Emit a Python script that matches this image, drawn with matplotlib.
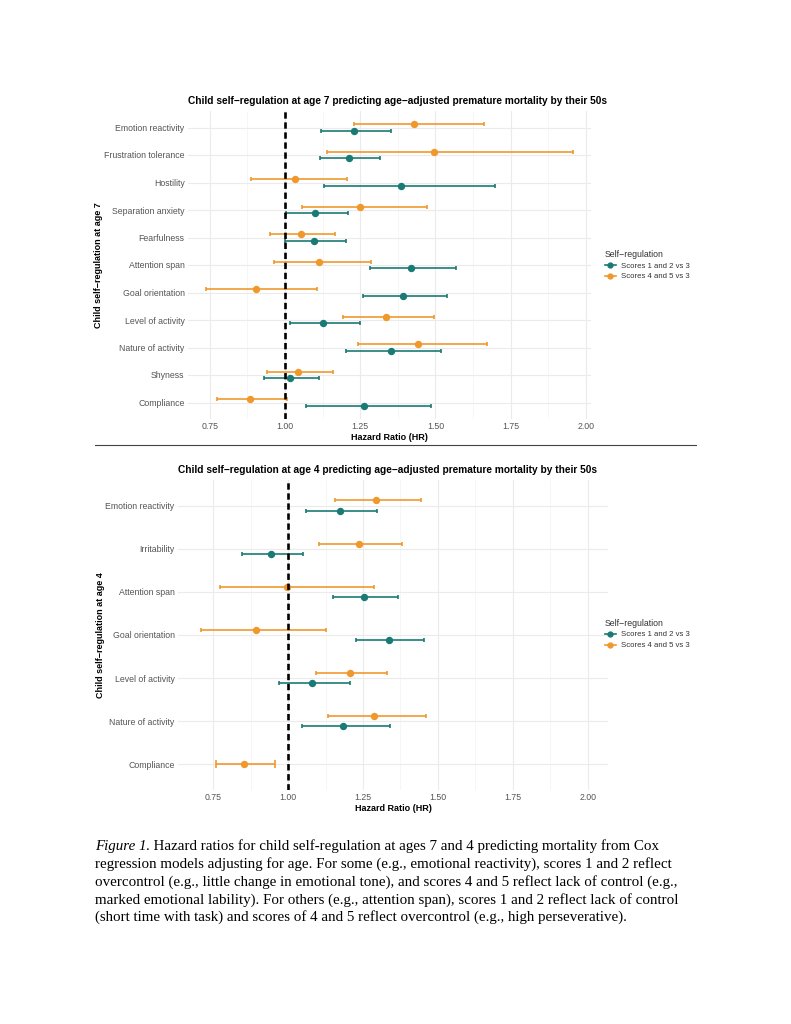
import matplotlib
matplotlib.use('Agg')
import matplotlib.pyplot as plt
from matplotlib.lines import Line2D
import numpy as np

plt.rcParams['font.family'] = ['Liberation Sans', 'DejaVu Sans']

nan = np.nan

# age 7 panel
cats_age7 = ['Emotion reactivity', 'Frustration tolerance', 'Hostility', 'Separation anxiety',
             'Fearfulness', 'Attention span', 'Goal orientation', 'Level of activity',
             'Nature of activity', 'Shyness', 'Compliance']
age7_s12_hr = [1.230, 1.212, 1.385, 1.099, 1.095, 1.419, 1.391, 1.128, 1.352, 1.016, 1.262]
age7_s12_lo = [1.121, 1.117, 1.131, 1.002, 1.000, 1.283, 1.261, 1.016, 1.203, 0.929, 1.070]
age7_s12_hi = [1.351, 1.317, 1.697, 1.211, 1.202, 1.567, 1.539, 1.250, 1.518, 1.112, 1.487]
age7_s45_hr = [1.429, 1.495, 1.034, 1.248, 1.053, 1.113, 0.905, 1.335, 1.441, 1.043, 0.884]
age7_s45_lo = [1.231, 1.140, 0.888, 1.058, 0.949, 0.964, 0.739, 1.193, 1.242, 0.940, 0.775]
age7_s45_hi = [1.660, 1.956, 1.206, 1.472, 1.168, 1.286, 1.107, 1.496, 1.672, 1.161, 1.008]

# age 4 panel (no "scores 1 and 2" estimate for compliance)
cats_age4 = ['Emotion reactivity', 'Irritability', 'Attention span', 'Goal orientation',
             'Level of activity', 'Nature of activity', 'Compliance']
age4_s12_hr = [1.173, 0.941, 1.252, 1.335, 1.081, 1.183, nan]
age4_s12_lo = [1.061, 0.845, 1.150, 1.225, 0.970, 1.047, nan]
age4_s12_hi = [1.297, 1.050, 1.367, 1.455, 1.206, 1.340, nan]
age4_s45_hr = [1.292, 1.235, 0.997, 0.892, 1.206, 1.286, 0.852]
age4_s45_lo = [1.155, 1.102, 0.772, 0.708, 1.094, 1.134, 0.758]
age4_s45_hi = [1.444, 1.381, 1.286, 1.127, 1.330, 1.461, 0.957]

x_ticks = [0.75, 1.00, 1.25, 1.50, 1.75, 2.00]
legend_labels = ['Scores 1 and 2 vs 3', 'Scores 4 and 5 vs 3']

caption_lead = 'Figure 1'
caption = [
    '. Hazard ratios for child self-regulation at ages 7 and 4 predicting mortality from Cox',
    'regression models adjusting for age. For some (e.g., emotional reactivity), scores 1 and 2 reflect',
    'overcontrol (e.g., little change in emotional tone), and scores 4 and 5 reflect lack of control (e.g.,',
    'marked emotional lability). For others (e.g., attention span), scores 1 and 2 reflect lack of control',
    '(short time with task) and scores of 4 and 5 reflect overcontrol (e.g., high perseverative).',
]

TEAL = '#1a7a75'
ORANGE = '#f0982c'
W, H = 791, 1024


def fig_box(x0, y0, x1, y1):
    # pixel box -> figure fraction [left, bottom, width, height]
    return [x0 / W, 1 - y1 / H, (x1 - x0) / W, (y1 - y0) / H]


def panel(ax, cats, s12, s45, xlim, title, ylabel, cap):
    n = len(cats)
    ypos = np.arange(n)
    for i in range(n):
        both = not (np.isnan(s12[0][i]) or np.isnan(s45[0][i]))
        off = 0.125 if both else 0.0
        for (hr, lo, hi), col, sgn in ((s45, ORANGE, -1), (s12, TEAL, 1)):
            if np.isnan(hr[i]):
                continue
            ax.errorbar(hr[i], ypos[i] + sgn * off, xerr=[[hr[i] - lo[i]], [hi[i] - hr[i]]],
                        fmt='o', color=col, ms=4.3, elinewidth=1.2, capsize=cap if both else cap * 2,
                        capthick=1.2, zorder=3)
    ax.axvline(1, color='black', lw=1.9, ls=(0, (2.4, 1.4)), zorder=5)

    ax.set_xticks(x_ticks)
    ax.set_xticklabels(['%.2f' % t for t in x_ticks])
    ax.set_xticks([t + 0.125 for t in x_ticks[:-1]], minor=True)
    ax.set_yticks(ypos)
    ax.set_yticklabels(cats)
    ax.set_xlim(*xlim)
    ax.set_ylim(n - 0.4, -0.6)
    ax.grid(which='major', color='#ebebeb', lw=0.8)
    ax.grid(which='minor', axis='x', color='#f3f3f3', lw=0.5)
    ax.set_axisbelow(True)
    for s in ax.spines.values():
        s.set_visible(False)
    ax.tick_params(which='both', length=0, labelsize=6.3, labelcolor='#555555', pad=2.5)
    ax.set_xlabel('Hazard Ratio (HR)', fontsize=6.5, fontweight='bold', labelpad=1)
    ax.set_ylabel(ylabel, fontsize=6.5, fontweight='bold', labelpad=0.5)
    ax.set_title(title, loc='left', fontsize=7.3, fontweight='bold', pad=5)


fig = plt.figure(figsize=(W / 100, H / 100), dpi=100)

ax1 = fig.add_axes(fig_box(188, 111, 591, 419))
panel(ax1, cats_age7, (age7_s12_hr, age7_s12_lo, age7_s12_hi),
      (age7_s45_hr, age7_s45_lo, age7_s45_hi), (0.678, 2.017),
      'Child self\u2212regulation at age 7 predicting age\u2212adjusted premature mortality by their 50s',
      'Child self\u2212regulation at age 7', 1.1)

ax2 = fig.add_axes(fig_box(178, 480, 608, 790))
panel(ax2, cats_age4, (age4_s12_hr, age4_s12_lo, age4_s12_hi),
      (age4_s45_hr, age4_s45_lo, age4_s45_hi), (0.632, 2.068),
      'Child self\u2212regulation at age 4 predicting age\u2212adjusted premature mortality by their 50s',
      'Child self\u2212regulation at age 4', 1.5)

handles = [Line2D([], [], color=c, marker='o', ms=3.5, lw=1.2) for c in (TEAL, ORANGE)]
for yc in (265, 634):
    leg = fig.legend(handles, legend_labels, title='Self\u2212regulation', loc='center left',
                     bbox_to_anchor=(598 / W, 1 - yc / H), frameon=False, fontsize=5.6,
                     title_fontsize=6.3, handlelength=1.4, handletextpad=0.6,
                     labelspacing=0.45, alignment='left')
    for t in leg.get_texts():
        t.set_color('#333333')
    leg.get_title().set_color('#333333')

# divider between the two panels
fig.add_artist(Line2D([95 / W, 696 / W], [1 - 445 / H] * 2, color='#444444', lw=0.8))

cap_kw = dict(fontsize=10.8, va='baseline', family='Liberation Serif', color='black')
x0 = 95 / W
lead = fig.text(x0, 1 - 850 / H, caption_lead, style='italic', **cap_kw)
fig.canvas.draw()
lead_w = lead.get_window_extent(fig.canvas.get_renderer()).width / W
for k, line in enumerate(caption):
    fig.text(x0 + (lead_w if k == 0 else 0), 1 - (850 + k * 17.8) / H, line, **cap_kw)

fig.savefig('out.png', dpi=100)
